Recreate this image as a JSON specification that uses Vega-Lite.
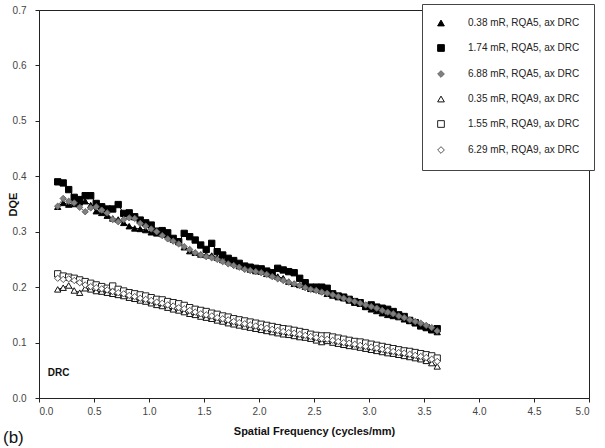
{
  "$schema": "https://vega.github.io/schema/vega-lite/v6.json",
  "width": 550,
  "height": 388,
  "autosize": {"type": "none"},
  "padding": {"left": 39, "top": 10, "right": 16, "bottom": 50},
  "background": "white",
  "title": {"text": "(b)", "orient": "bottom", "anchor": "start", "frame": "bounds", "fontSize": 17, "fontWeight": "normal", "font": "Liberation Sans", "color": "#111", "offset": -6, "baseline": "top", "dx": -4},
  "config": {
    "view": {"stroke": "#222", "strokeWidth": 1},
    "axis": {"grid": false, "domainColor": "#222", "tickColor": "#222", "labelColor": "#444", "labelFont": "Liberation Sans", "labelFontSize": 10, "titleFont": "Liberation Sans", "titleFontSize": 11, "titleFontWeight": "bold", "titleColor": "#111", "tickSize": 4},
    "legend": {"title": null, "orient": "none", "legendX": 383, "legendY": -6, "labelFont": "Liberation Sans", "labelFontSize": 10, "labelColor": "#222", "symbolSize": 45, "symbolStrokeWidth": 1, "rowPadding": 14, "padding": 14, "labelOffset": 22, "strokeColor": "#444", "fillColor": "white", "labelLimit": 200}
  },
  "layer": [
    {
      "data": {"values": [
{"s":"A","f":0.17,"v":0.345},{"s":"A","f":0.22,"v":0.352},{"s":"A","f":0.27,"v":0.349},{"s":"A","f":0.32,"v":0.350},{"s":"A","f":0.37,"v":0.353},{"s":"A","f":0.42,"v":0.355},{"s":"A","f":0.47,"v":0.348},{"s":"A","f":0.52,"v":0.337},{"s":"A","f":0.57,"v":0.334},{"s":"A","f":0.62,"v":0.329},{"s":"A","f":0.67,"v":0.324},{"s":"A","f":0.72,"v":0.322},{"s":"A","f":0.77,"v":0.316},{"s":"A","f":0.82,"v":0.310},{"s":"A","f":0.87,"v":0.306},{"s":"A","f":0.92,"v":0.305},{"s":"A","f":0.97,"v":0.303},{"s":"A","f":1.02,"v":0.299},{"s":"A","f":1.07,"v":0.297},{"s":"A","f":1.12,"v":0.296},{"s":"A","f":1.17,"v":0.294},{"s":"A","f":1.22,"v":0.286},{"s":"A","f":1.27,"v":0.282},{"s":"A","f":1.32,"v":0.272},{"s":"A","f":1.37,"v":0.265},{"s":"A","f":1.42,"v":0.262},{"s":"A","f":1.47,"v":0.259},{"s":"A","f":1.52,"v":0.258},{"s":"A","f":1.57,"v":0.257},{"s":"A","f":1.62,"v":0.253},{"s":"A","f":1.67,"v":0.249},{"s":"A","f":1.72,"v":0.246},{"s":"A","f":1.77,"v":0.243},{"s":"A","f":1.82,"v":0.238},{"s":"A","f":1.87,"v":0.236},{"s":"A","f":1.92,"v":0.232},{"s":"A","f":1.97,"v":0.229},{"s":"A","f":2.02,"v":0.228},{"s":"A","f":2.07,"v":0.224},{"s":"A","f":2.12,"v":0.222},{"s":"A","f":2.17,"v":0.219},{"s":"A","f":2.22,"v":0.216},{"s":"A","f":2.27,"v":0.210},{"s":"A","f":2.32,"v":0.206},{"s":"A","f":2.37,"v":0.204},{"s":"A","f":2.42,"v":0.201},{"s":"A","f":2.47,"v":0.197},{"s":"A","f":2.52,"v":0.196},{"s":"A","f":2.57,"v":0.193},{"s":"A","f":2.62,"v":0.188},{"s":"A","f":2.67,"v":0.185},{"s":"A","f":2.72,"v":0.182},{"s":"A","f":2.77,"v":0.180},{"s":"A","f":2.82,"v":0.176},{"s":"A","f":2.87,"v":0.172},{"s":"A","f":2.92,"v":0.170},{"s":"A","f":2.97,"v":0.165},{"s":"A","f":3.02,"v":0.160},{"s":"A","f":3.07,"v":0.157},{"s":"A","f":3.12,"v":0.153},{"s":"A","f":3.17,"v":0.150},{"s":"A","f":3.22,"v":0.148},{"s":"A","f":3.27,"v":0.146},{"s":"A","f":3.32,"v":0.142},{"s":"A","f":3.37,"v":0.139},{"s":"A","f":3.42,"v":0.135},{"s":"A","f":3.47,"v":0.131},{"s":"A","f":3.52,"v":0.128},{"s":"A","f":3.57,"v":0.125},{"s":"A","f":3.62,"v":0.119},
{"s":"B","f":0.17,"v":0.390},{"s":"B","f":0.22,"v":0.388},{"s":"B","f":0.27,"v":0.376},{"s":"B","f":0.32,"v":0.362},{"s":"B","f":0.37,"v":0.358},{"s":"B","f":0.42,"v":0.365},{"s":"B","f":0.47,"v":0.365},{"s":"B","f":0.52,"v":0.351},{"s":"B","f":0.57,"v":0.345},{"s":"B","f":0.62,"v":0.341},{"s":"B","f":0.67,"v":0.341},{"s":"B","f":0.72,"v":0.349},{"s":"B","f":0.77,"v":0.333},{"s":"B","f":0.82,"v":0.334},{"s":"B","f":0.87,"v":0.327},{"s":"B","f":0.92,"v":0.321},{"s":"B","f":0.97,"v":0.316},{"s":"B","f":1.02,"v":0.312},{"s":"B","f":1.07,"v":0.301},{"s":"B","f":1.12,"v":0.302},{"s":"B","f":1.17,"v":0.298},{"s":"B","f":1.22,"v":0.288},{"s":"B","f":1.27,"v":0.282},{"s":"B","f":1.32,"v":0.297},{"s":"B","f":1.37,"v":0.291},{"s":"B","f":1.42,"v":0.285},{"s":"B","f":1.47,"v":0.276},{"s":"B","f":1.52,"v":0.268},{"s":"B","f":1.57,"v":0.279},{"s":"B","f":1.62,"v":0.264},{"s":"B","f":1.67,"v":0.258},{"s":"B","f":1.72,"v":0.252},{"s":"B","f":1.77,"v":0.248},{"s":"B","f":1.82,"v":0.243},{"s":"B","f":1.87,"v":0.238},{"s":"B","f":1.92,"v":0.236},{"s":"B","f":1.97,"v":0.234},{"s":"B","f":2.02,"v":0.233},{"s":"B","f":2.07,"v":0.229},{"s":"B","f":2.12,"v":0.226},{"s":"B","f":2.17,"v":0.234},{"s":"B","f":2.22,"v":0.231},{"s":"B","f":2.27,"v":0.228},{"s":"B","f":2.32,"v":0.226},{"s":"B","f":2.37,"v":0.216},{"s":"B","f":2.42,"v":0.208},{"s":"B","f":2.47,"v":0.200},{"s":"B","f":2.52,"v":0.200},{"s":"B","f":2.57,"v":0.200},{"s":"B","f":2.62,"v":0.198},{"s":"B","f":2.67,"v":0.188},{"s":"B","f":2.72,"v":0.184},{"s":"B","f":2.77,"v":0.182},{"s":"B","f":2.82,"v":0.178},{"s":"B","f":2.87,"v":0.174},{"s":"B","f":2.92,"v":0.172},{"s":"B","f":2.97,"v":0.165},{"s":"B","f":3.02,"v":0.168},{"s":"B","f":3.07,"v":0.164},{"s":"B","f":3.12,"v":0.162},{"s":"B","f":3.17,"v":0.160},{"s":"B","f":3.22,"v":0.156},{"s":"B","f":3.27,"v":0.150},{"s":"B","f":3.32,"v":0.147},{"s":"B","f":3.37,"v":0.140},{"s":"B","f":3.42,"v":0.136},{"s":"B","f":3.47,"v":0.130},{"s":"B","f":3.52,"v":0.127},{"s":"B","f":3.57,"v":0.123},{"s":"B","f":3.62,"v":0.125},
{"s":"C","f":0.17,"v":0.346},{"s":"C","f":0.22,"v":0.360},{"s":"C","f":0.27,"v":0.355},{"s":"C","f":0.32,"v":0.352},{"s":"C","f":0.37,"v":0.344},{"s":"C","f":0.42,"v":0.336},{"s":"C","f":0.47,"v":0.343},{"s":"C","f":0.52,"v":0.345},{"s":"C","f":0.57,"v":0.339},{"s":"C","f":0.62,"v":0.334},{"s":"C","f":0.67,"v":0.322},{"s":"C","f":0.72,"v":0.318},{"s":"C","f":0.77,"v":0.322},{"s":"C","f":0.82,"v":0.325},{"s":"C","f":0.87,"v":0.324},{"s":"C","f":0.92,"v":0.315},{"s":"C","f":0.97,"v":0.310},{"s":"C","f":1.02,"v":0.305},{"s":"C","f":1.07,"v":0.300},{"s":"C","f":1.12,"v":0.293},{"s":"C","f":1.17,"v":0.287},{"s":"C","f":1.22,"v":0.283},{"s":"C","f":1.27,"v":0.278},{"s":"C","f":1.32,"v":0.273},{"s":"C","f":1.37,"v":0.268},{"s":"C","f":1.42,"v":0.262},{"s":"C","f":1.47,"v":0.258},{"s":"C","f":1.52,"v":0.255},{"s":"C","f":1.57,"v":0.253},{"s":"C","f":1.62,"v":0.250},{"s":"C","f":1.67,"v":0.246},{"s":"C","f":1.72,"v":0.242},{"s":"C","f":1.77,"v":0.239},{"s":"C","f":1.82,"v":0.236},{"s":"C","f":1.87,"v":0.232},{"s":"C","f":1.92,"v":0.230},{"s":"C","f":1.97,"v":0.228},{"s":"C","f":2.02,"v":0.226},{"s":"C","f":2.07,"v":0.223},{"s":"C","f":2.12,"v":0.219},{"s":"C","f":2.17,"v":0.215},{"s":"C","f":2.22,"v":0.212},{"s":"C","f":2.27,"v":0.209},{"s":"C","f":2.32,"v":0.206},{"s":"C","f":2.37,"v":0.203},{"s":"C","f":2.42,"v":0.199},{"s":"C","f":2.47,"v":0.196},{"s":"C","f":2.52,"v":0.194},{"s":"C","f":2.57,"v":0.191},{"s":"C","f":2.62,"v":0.189},{"s":"C","f":2.67,"v":0.186},{"s":"C","f":2.72,"v":0.183},{"s":"C","f":2.77,"v":0.180},{"s":"C","f":2.82,"v":0.177},{"s":"C","f":2.87,"v":0.174},{"s":"C","f":2.92,"v":0.171},{"s":"C","f":2.97,"v":0.168},{"s":"C","f":3.02,"v":0.165},{"s":"C","f":3.07,"v":0.162},{"s":"C","f":3.12,"v":0.158},{"s":"C","f":3.17,"v":0.155},{"s":"C","f":3.22,"v":0.152},{"s":"C","f":3.27,"v":0.148},{"s":"C","f":3.32,"v":0.145},{"s":"C","f":3.37,"v":0.141},{"s":"C","f":3.42,"v":0.138},{"s":"C","f":3.47,"v":0.135},{"s":"C","f":3.52,"v":0.131},{"s":"C","f":3.57,"v":0.127},{"s":"C","f":3.62,"v":0.121},
{"s":"D","f":0.17,"v":0.196},{"s":"D","f":0.22,"v":0.199},{"s":"D","f":0.27,"v":0.203},{"s":"D","f":0.32,"v":0.194},{"s":"D","f":0.37,"v":0.190},{"s":"D","f":0.42,"v":0.198},{"s":"D","f":0.47,"v":0.196},{"s":"D","f":0.52,"v":0.193},{"s":"D","f":0.57,"v":0.192},{"s":"D","f":0.62,"v":0.190},{"s":"D","f":0.67,"v":0.188},{"s":"D","f":0.72,"v":0.186},{"s":"D","f":0.77,"v":0.184},{"s":"D","f":0.82,"v":0.181},{"s":"D","f":0.87,"v":0.179},{"s":"D","f":0.92,"v":0.176},{"s":"D","f":0.97,"v":0.174},{"s":"D","f":1.02,"v":0.171},{"s":"D","f":1.07,"v":0.168},{"s":"D","f":1.12,"v":0.166},{"s":"D","f":1.17,"v":0.163},{"s":"D","f":1.22,"v":0.160},{"s":"D","f":1.27,"v":0.158},{"s":"D","f":1.32,"v":0.155},{"s":"D","f":1.37,"v":0.152},{"s":"D","f":1.42,"v":0.150},{"s":"D","f":1.47,"v":0.147},{"s":"D","f":1.52,"v":0.145},{"s":"D","f":1.57,"v":0.143},{"s":"D","f":1.62,"v":0.140},{"s":"D","f":1.67,"v":0.138},{"s":"D","f":1.72,"v":0.135},{"s":"D","f":1.77,"v":0.133},{"s":"D","f":1.82,"v":0.131},{"s":"D","f":1.87,"v":0.129},{"s":"D","f":1.92,"v":0.127},{"s":"D","f":1.97,"v":0.125},{"s":"D","f":2.02,"v":0.123},{"s":"D","f":2.07,"v":0.121},{"s":"D","f":2.12,"v":0.119},{"s":"D","f":2.17,"v":0.117},{"s":"D","f":2.22,"v":0.115},{"s":"D","f":2.27,"v":0.114},{"s":"D","f":2.32,"v":0.112},{"s":"D","f":2.37,"v":0.110},{"s":"D","f":2.42,"v":0.109},{"s":"D","f":2.47,"v":0.107},{"s":"D","f":2.52,"v":0.104},{"s":"D","f":2.57,"v":0.101},{"s":"D","f":2.62,"v":0.103},{"s":"D","f":2.67,"v":0.100},{"s":"D","f":2.72,"v":0.098},{"s":"D","f":2.77,"v":0.096},{"s":"D","f":2.82,"v":0.094},{"s":"D","f":2.87,"v":0.093},{"s":"D","f":2.92,"v":0.091},{"s":"D","f":2.97,"v":0.089},{"s":"D","f":3.02,"v":0.087},{"s":"D","f":3.07,"v":0.085},{"s":"D","f":3.12,"v":0.083},{"s":"D","f":3.17,"v":0.081},{"s":"D","f":3.22,"v":0.080},{"s":"D","f":3.27,"v":0.078},{"s":"D","f":3.32,"v":0.076},{"s":"D","f":3.37,"v":0.074},{"s":"D","f":3.42,"v":0.072},{"s":"D","f":3.47,"v":0.070},{"s":"D","f":3.52,"v":0.067},{"s":"D","f":3.57,"v":0.063},{"s":"D","f":3.62,"v":0.057},
{"s":"E","f":0.17,"v":0.224},{"s":"E","f":0.22,"v":0.220},{"s":"E","f":0.27,"v":0.218},{"s":"E","f":0.32,"v":0.216},{"s":"E","f":0.37,"v":0.213},{"s":"E","f":0.42,"v":0.210},{"s":"E","f":0.47,"v":0.207},{"s":"E","f":0.52,"v":0.204},{"s":"E","f":0.57,"v":0.201},{"s":"E","f":0.62,"v":0.198},{"s":"E","f":0.67,"v":0.202},{"s":"E","f":0.72,"v":0.196},{"s":"E","f":0.77,"v":0.193},{"s":"E","f":0.82,"v":0.190},{"s":"E","f":0.87,"v":0.188},{"s":"E","f":0.92,"v":0.186},{"s":"E","f":0.97,"v":0.184},{"s":"E","f":1.02,"v":0.181},{"s":"E","f":1.07,"v":0.178},{"s":"E","f":1.12,"v":0.177},{"s":"E","f":1.17,"v":0.174},{"s":"E","f":1.22,"v":0.172},{"s":"E","f":1.27,"v":0.170},{"s":"E","f":1.32,"v":0.167},{"s":"E","f":1.37,"v":0.163},{"s":"E","f":1.42,"v":0.160},{"s":"E","f":1.47,"v":0.158},{"s":"E","f":1.52,"v":0.156},{"s":"E","f":1.57,"v":0.153},{"s":"E","f":1.62,"v":0.151},{"s":"E","f":1.67,"v":0.148},{"s":"E","f":1.72,"v":0.146},{"s":"E","f":1.77,"v":0.143},{"s":"E","f":1.82,"v":0.141},{"s":"E","f":1.87,"v":0.139},{"s":"E","f":1.92,"v":0.137},{"s":"E","f":1.97,"v":0.135},{"s":"E","f":2.02,"v":0.133},{"s":"E","f":2.07,"v":0.131},{"s":"E","f":2.12,"v":0.129},{"s":"E","f":2.17,"v":0.127},{"s":"E","f":2.22,"v":0.125},{"s":"E","f":2.27,"v":0.124},{"s":"E","f":2.32,"v":0.122},{"s":"E","f":2.37,"v":0.120},{"s":"E","f":2.42,"v":0.118},{"s":"E","f":2.47,"v":0.115},{"s":"E","f":2.52,"v":0.113},{"s":"E","f":2.57,"v":0.112},{"s":"E","f":2.62,"v":0.112},{"s":"E","f":2.67,"v":0.110},{"s":"E","f":2.72,"v":0.108},{"s":"E","f":2.77,"v":0.106},{"s":"E","f":2.82,"v":0.104},{"s":"E","f":2.87,"v":0.102},{"s":"E","f":2.92,"v":0.101},{"s":"E","f":2.97,"v":0.099},{"s":"E","f":3.02,"v":0.097},{"s":"E","f":3.07,"v":0.095},{"s":"E","f":3.12,"v":0.093},{"s":"E","f":3.17,"v":0.091},{"s":"E","f":3.22,"v":0.089},{"s":"E","f":3.27,"v":0.087},{"s":"E","f":3.32,"v":0.085},{"s":"E","f":3.37,"v":0.084},{"s":"E","f":3.42,"v":0.082},{"s":"E","f":3.47,"v":0.080},{"s":"E","f":3.52,"v":0.078},{"s":"E","f":3.57,"v":0.076},{"s":"E","f":3.62,"v":0.072},
{"s":"F","f":0.17,"v":0.216},{"s":"F","f":0.22,"v":0.214},{"s":"F","f":0.27,"v":0.215},{"s":"F","f":0.32,"v":0.212},{"s":"F","f":0.37,"v":0.208},{"s":"F","f":0.42,"v":0.204},{"s":"F","f":0.47,"v":0.201},{"s":"F","f":0.52,"v":0.199},{"s":"F","f":0.57,"v":0.197},{"s":"F","f":0.62,"v":0.195},{"s":"F","f":0.67,"v":0.192},{"s":"F","f":0.72,"v":0.190},{"s":"F","f":0.77,"v":0.188},{"s":"F","f":0.82,"v":0.185},{"s":"F","f":0.87,"v":0.183},{"s":"F","f":0.92,"v":0.180},{"s":"F","f":0.97,"v":0.178},{"s":"F","f":1.02,"v":0.176},{"s":"F","f":1.07,"v":0.173},{"s":"F","f":1.12,"v":0.171},{"s":"F","f":1.17,"v":0.168},{"s":"F","f":1.22,"v":0.166},{"s":"F","f":1.27,"v":0.163},{"s":"F","f":1.32,"v":0.161},{"s":"F","f":1.37,"v":0.158},{"s":"F","f":1.42,"v":0.155},{"s":"F","f":1.47,"v":0.152},{"s":"F","f":1.52,"v":0.150},{"s":"F","f":1.57,"v":0.148},{"s":"F","f":1.62,"v":0.145},{"s":"F","f":1.67,"v":0.143},{"s":"F","f":1.72,"v":0.141},{"s":"F","f":1.77,"v":0.138},{"s":"F","f":1.82,"v":0.136},{"s":"F","f":1.87,"v":0.134},{"s":"F","f":1.92,"v":0.132},{"s":"F","f":1.97,"v":0.130},{"s":"F","f":2.02,"v":0.128},{"s":"F","f":2.07,"v":0.126},{"s":"F","f":2.12,"v":0.124},{"s":"F","f":2.17,"v":0.122},{"s":"F","f":2.22,"v":0.120},{"s":"F","f":2.27,"v":0.118},{"s":"F","f":2.32,"v":0.117},{"s":"F","f":2.37,"v":0.115},{"s":"F","f":2.42,"v":0.113},{"s":"F","f":2.47,"v":0.111},{"s":"F","f":2.52,"v":0.109},{"s":"F","f":2.57,"v":0.107},{"s":"F","f":2.62,"v":0.106},{"s":"F","f":2.67,"v":0.104},{"s":"F","f":2.72,"v":0.102},{"s":"F","f":2.77,"v":0.100},{"s":"F","f":2.82,"v":0.099},{"s":"F","f":2.87,"v":0.097},{"s":"F","f":2.92,"v":0.095},{"s":"F","f":2.97,"v":0.093},{"s":"F","f":3.02,"v":0.092},{"s":"F","f":3.07,"v":0.090},{"s":"F","f":3.12,"v":0.088},{"s":"F","f":3.17,"v":0.086},{"s":"F","f":3.22,"v":0.084},{"s":"F","f":3.27,"v":0.082},{"s":"F","f":3.32,"v":0.081},{"s":"F","f":3.37,"v":0.079},{"s":"F","f":3.42,"v":0.077},{"s":"F","f":3.47,"v":0.075},{"s":"F","f":3.52,"v":0.073},{"s":"F","f":3.57,"v":0.070},{"s":"F","f":3.62,"v":0.066}
      ]},
      "encoding": {
        "x": {"field": "f", "type": "quantitative", "scale": {"domain": [0, 5], "nice": false}, "axis": {"values": [0, 0.5, 1, 1.5, 2, 2.5, 3, 3.5, 4, 4.5, 5], "format": ".1f", "labelPadding": 4, "title": "Spatial Frequency (cycles/mm)", "titlePadding": 9}},
        "y": {"field": "v", "type": "quantitative", "scale": {"domain": [0, 0.7], "nice": false}, "axis": {"values": [0, 0.1, 0.2, 0.3, 0.4, 0.5, 0.6, 0.7], "format": ".1f", "labelPadding": 9, "title": "DQE", "titleX": -21}}
      },
      "layer": [
        {
          "mark": {"type": "line", "strokeWidth": 1},
          "encoding": {
            "color": {"field": "s", "type": "nominal", "scale": {"domain": ["A", "B", "C", "D", "E", "F"], "range": ["#000000", "#000000", "#666666", "#111111", "#222222", "#555555"]}, "legend": {"labelExpr": "{'A':'0.38 mR, RQA5, ax DRC','B':'1.74 mR, RQA5, ax DRC','C':'6.88 mR, RQA5, ax DRC','D':'0.35 mR, RQA9, ax DRC','E':'1.55 mR, RQA9, ax DRC','F':'6.29 mR, RQA9, ax DRC'}[datum.label]"}}
          }
        },
        {
          "mark": {"type": "point", "filled": false, "size": 40, "strokeWidth": 1, "opacity": 1},
          "encoding": {
            "color": {"field": "s", "type": "nominal", "scale": {"domain": ["A", "B", "C", "D", "E", "F"], "range": ["#000000", "#000000", "#666666", "#111111", "#222222", "#555555"]}, "legend": {"labelExpr": "{'A':'0.38 mR, RQA5, ax DRC','B':'1.74 mR, RQA5, ax DRC','C':'6.88 mR, RQA5, ax DRC','D':'0.35 mR, RQA9, ax DRC','E':'1.55 mR, RQA9, ax DRC','F':'6.29 mR, RQA9, ax DRC'}[datum.label]"}},
            "fill": {"field": "s", "type": "nominal", "scale": {"domain": ["A", "B", "C", "D", "E", "F"], "range": ["#000000", "#000000", "#808080", "#ffffff", "#ffffff", "#ffffff"]}, "legend": {"labelExpr": "{'A':'0.38 mR, RQA5, ax DRC','B':'1.74 mR, RQA5, ax DRC','C':'6.88 mR, RQA5, ax DRC','D':'0.35 mR, RQA9, ax DRC','E':'1.55 mR, RQA9, ax DRC','F':'6.29 mR, RQA9, ax DRC'}[datum.label]"}},
            "shape": {"field": "s", "type": "nominal", "scale": {"domain": ["A", "B", "C", "D", "E", "F"], "range": ["triangle-up", "square", "diamond", "triangle-up", "square", "diamond"]}, "legend": {"labelExpr": "{'A':'0.38 mR, RQA5, ax DRC','B':'1.74 mR, RQA5, ax DRC','C':'6.88 mR, RQA5, ax DRC','D':'0.35 mR, RQA9, ax DRC','E':'1.55 mR, RQA9, ax DRC','F':'6.29 mR, RQA9, ax DRC'}[datum.label]"}}
          }
        }
      ]
    },
    {
      "data": {"values": [{"f": 0.08, "v": 0.045, "t": "DRC"}]},
      "mark": {"type": "text", "align": "left", "baseline": "middle", "font": "Liberation Sans", "fontSize": 10, "fontWeight": "bold", "color": "#111"},
      "encoding": {
        "x": {"field": "f", "type": "quantitative"},
        "y": {"field": "v", "type": "quantitative"},
        "text": {"field": "t"}
      }
    }
  ]
}
